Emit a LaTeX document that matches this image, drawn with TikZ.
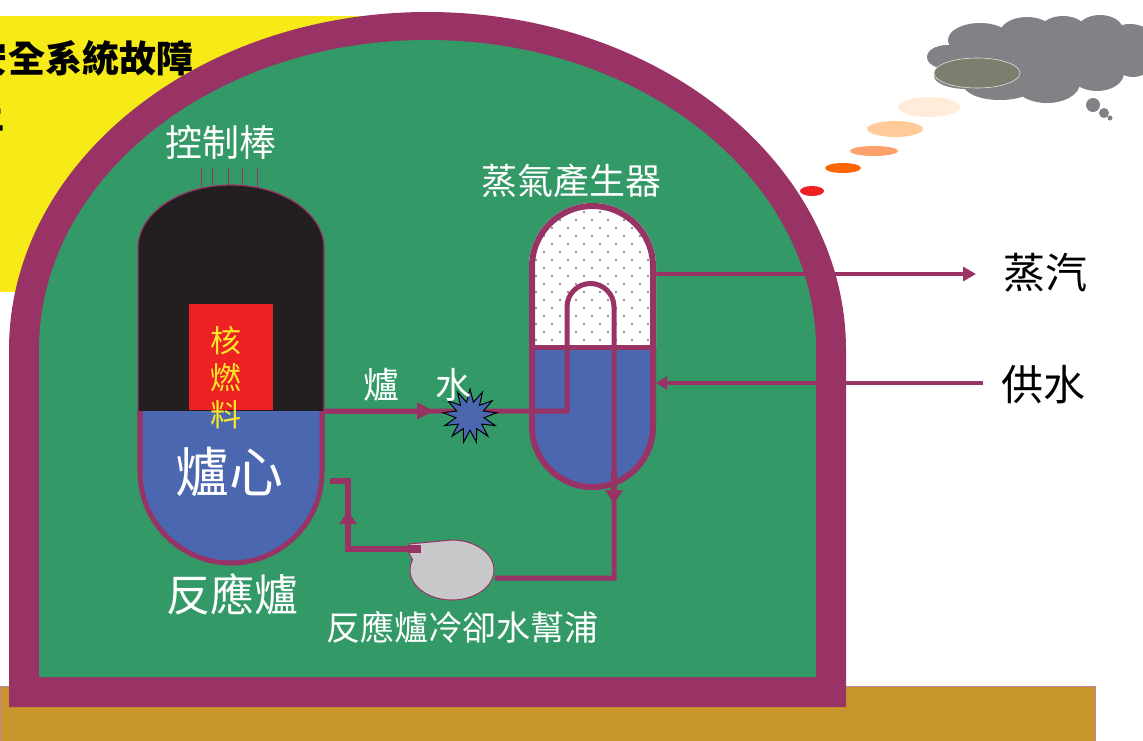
\documentclass[tikz,border=0pt]{standalone}
\usepackage{fontspec}
\usepackage{tikz}
\usetikzlibrary{arrows.meta,shapes.geometric}

\newfontfamily\cjk{Noto Sans CJK TC}

\definecolor{wall}{RGB}{153,51,102}
\definecolor{dome}{RGB}{50,153,103}
\definecolor{water}{RGB}{74,103,176}
\definecolor{rod}{RGB}{35,31,32}
\definecolor{fuel}{RGB}{237,32,36}
\definecolor{fuelword}{RGB}{250,232,40}
\definecolor{warn}{RGB}{246,235,22}
\definecolor{ground}{RGB}{200,150,42}
\definecolor{pumpgray}{RGB}{200,200,202}
\definecolor{smoke}{RGB}{128,130,133}
\definecolor{ash}{RGB}{126,126,110}
\definecolor{dotgray}{RGB}{110,110,110}

\begin{document}
\begin{tikzpicture}[x=1pt,y=-1pt,
	pipe/.style={draw=wall,line width=5pt},
	whitetxt/.style={text=white,inner sep=0pt,font=\cjk\fontsize{#1}{#1}\selectfont},
	blacktxt/.style={text=black,inner sep=0pt,font=\cjk\fontsize{#1}{#1}\selectfont},
	alarmtxt/.style={text=black,inner sep=0pt,font=\cjk\bfseries\fontsize{37}{37}\selectfont},
]
	\useasboundingbox (0,0) rectangle (1143,740);

	% ground and warning panel
	\filldraw[fill=ground,draw=wall!60,line width=1pt] (0,686) rectangle (1095,760);
	\fill[warn] (0,16) rectangle (440,292);
	\node[alarmtxt,anchor=west] (alarm) at (8,58) {全系統故障};
	\node[alarmtxt,anchor=east] (alarmhead) at (alarm.west) {安};
	\node[alarmtxt,anchor=east] (alarmb) at (5,114) {止};

	% containment
	\fill[wall] (9,707) -- (9,350) arc[start angle=180,end angle=0,x radius=418.5pt,y radius=338pt] -- (846,707) -- cycle;
	\fill[dome] (39,677) -- (39,350) arc[start angle=180,end angle=0,x radius=388.5pt,y radius=310pt] -- (816,677) -- cycle;

	% control rods and reactor vessel
	\foreach \x in {201,212,228,242,257}
		\draw[wall,line width=1pt] (\x,168) -- (\x,200);
	\begin{scope}
		\clip (138,472) -- (138,248) arc[start angle=180,end angle=0,x radius=93pt,y radius=63pt] -- (324,472) arc[start angle=0,end angle=-180,radius=93pt] -- cycle;
		\fill[water] (130,411) rectangle (330,570);
		\fill[rod] (130,170) rectangle (330,411);
	\end{scope}
	\draw[wall,line width=1.2pt] (138,472) -- (138,248) arc[start angle=180,end angle=0,x radius=93pt,y radius=63pt] -- (324,472);
	\draw[wall,line width=5pt] (140,411) -- (140,472) arc[start angle=180,end angle=360,radius=91pt] -- (322,411);
	\fill[fuel] (189,304) rectangle (273,410);

	\node[whitetxt=37] (rods) at (221,142) {控制棒};
	\node[text=fuelword,inner sep=0pt,align=center,font=\cjk\fontsize{31}{37}\selectfont] (fuelname) at (226,378) {核\\燃\\料};
	\node[whitetxt=54] (corename) at (229,472) {爐心};
	\node[whitetxt=44] (reactor) at (232,594) {反應爐};

	% steam generator
	\begin{scope}
		\clip (529,266.5) arc[start angle=180,end angle=0,radius=63.5pt] -- (656,426.5) arc[start angle=0,end angle=-180,radius=63.5pt] -- cycle;
		\fill[white] (520,195) rectangle (665,347);
		\foreach \r in {0,...,17}
			\foreach \c in {0,...,8}
				\fill[dotgray] ({536+16*\c+8*mod(\r,2)},{212+8*\r}) circle[radius=1.1pt];
		\fill[water] (520,347) rectangle (665,495);
	\end{scope}
	\draw[wall,line width=5pt] (529,347) -- (656,347);
	\draw[wall,line width=6pt] (532,266.5) arc[start angle=180,end angle=0,radius=60.5pt] -- (653,426.5) arc[start angle=0,end angle=-180,radius=60.5pt] -- cycle;
	\node[whitetxt=36] (sgname) at (571,181) {蒸氣產生器};

	% primary loop
	\coordinate (hotout) at (324,411);
	\coordinate (tubein) at (567,411);
	\coordinate (tubeout) at (614,578);
	\coordinate (pumpin) at (495,578);
	\coordinate (pumpout) at (421,549);
	\coordinate (coldin) at (330,481);
	\draw[pipe] (hotout) -- (tubein) -- (567,307) arc[start angle=180,end angle=0,radius=23.5pt] -- (tubeout) -- (pumpin);
	\draw[pipe,-{Triangle[length=17pt,width=16pt]}] (hotout) -- (434,411);
	\draw[pipe,line width=6pt,-{Triangle[length=14pt,width=17pt]}] (614,470) -- (614,504);
	\draw[pipe,line width=6pt] (pumpout) -- (348,549) -- (348,481) -- (coldin);
	\draw[pipe,line width=6pt,-{Triangle[length=13pt,width=17pt]}] (348,540) -- (348,511);

	\node[star,star points=13,star point ratio=1.9,minimum size=54pt,inner sep=0pt,fill=water,draw=black,line width=1pt] (leak) at (470,416) {};
	\node[whitetxt=36] (coolant) at (417,385) {爐　水};

	% coolant pump
	\filldraw[fill=pumpgray,draw=wall,line width=1pt] (409,544) -- (452,540) arc[start angle=90,end angle=-200,x radius=42pt,y radius=30pt] -- (409,553) -- cycle;
	\fill[wall] (408,545) rectangle (421,553);
	\node[whitetxt=34] (pumpname) at (462,627) {反應爐冷卻水幫浦};

	% steam and feedwater lines
	\draw[wall,line width=4.3pt,-{Triangle[length=13pt,width=14pt]}] (656,274) -- (976,274);
	\draw[wall,line width=4.3pt,-{Triangle[length=11pt,width=13pt]}] (983,383) -- (656,383);
	\node[blacktxt=42] (steam) at (1045,273) {蒸汽};
	\node[blacktxt=42] (feed) at (1043,385) {供水};

	% smoke rising to the cloud
	\fill[fuel] (812,191) ellipse[x radius=12pt,y radius=5pt];
	\fill[orange!80!red] (843,168) ellipse[x radius=18pt,y radius=5pt];
	\fill[fuel!30!orange!60!white] (874,151) ellipse[x radius=24pt,y radius=5pt];
	\fill[orange!40!white] (895,129) ellipse[x radius=28pt,y radius=8pt];
	\fill[orange!15!white] (929,107) ellipse[x radius=31pt,y radius=10pt];
	\fill[smoke] (947,57) ellipse[x radius=20pt,y radius=12pt]
		(980,40) ellipse[x radius=32pt,y radius=17pt]
		(1027,33) ellipse[x radius=27pt,y radius=16pt]
		(1063,30) ellipse[x radius=23pt,y radius=14pt]
		(1100,30) ellipse[x radius=23pt,y radius=15pt]
		(1130,38) ellipse[x radius=22pt,y radius=14pt]
		(967,76) ellipse[x radius=33pt,y radius=13pt]
		(1000,84) ellipse[x radius=37pt,y radius=16pt]
		(1047,83) ellipse[x radius=33pt,y radius=20pt]
		(1097,73) ellipse[x radius=27pt,y radius=18pt]
		(1133,60) ellipse[x radius=20pt,y radius=17pt]
		(1040,58) ellipse[x radius=90pt,y radius=30pt];
	\filldraw[fill=ash,draw=white!75!smoke,line width=0.6pt] (977,73) ellipse[x radius=43pt,y radius=15pt];
	\fill[smoke] (1093,105) circle[radius=7pt] (1104,113) circle[radius=5pt] (1110,118) circle[radius=2.5pt];
\end{tikzpicture}
\end{document}
